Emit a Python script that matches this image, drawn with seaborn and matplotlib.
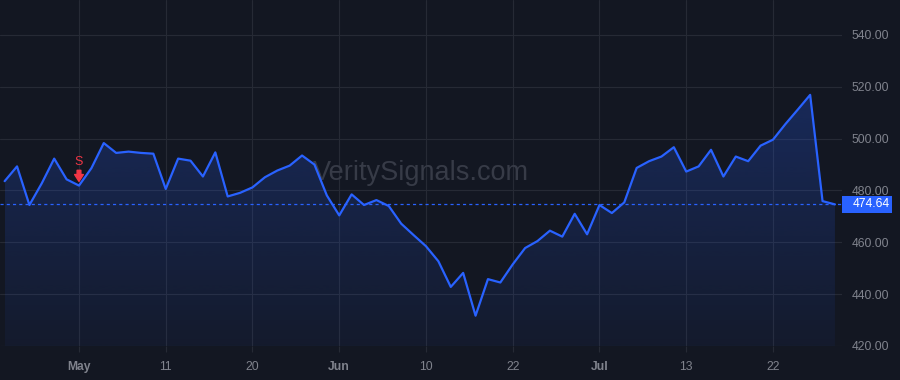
import numpy as np
import pandas as pd
import matplotlib
matplotlib.use("Agg")
import matplotlib.pyplot as plt
import matplotlib.transforms as mtransforms
from matplotlib.colors import LinearSegmentedColormap, to_rgb
from matplotlib.patches import Polygon, Rectangle
import seaborn as sns

# ---------------- data ----------------
prices = [483.6, 489.3, 474.4, 482.8, 492.3, 484.3, 481.9, 488.6, 498.3, 494.5,
          495.0, 494.5, 494.2, 480.6, 492.3, 491.5, 485.4, 494.7, 477.7, 479.1,
          481.2, 485.1, 487.7, 489.6, 493.5, 490.0, 478.1, 470.4, 478.5, 474.4,
          476.3, 474.0, 467.2, 462.8, 458.5, 452.7, 442.8, 448.2, 431.7, 445.8,
          444.5, 451.5, 457.8, 460.5, 464.5, 462.2, 471.0, 463.1, 474.4, 471.3,
          475.4, 488.7, 491.3, 493.1, 496.7, 487.3, 489.3, 495.7, 485.4, 493.1,
          491.3, 497.3, 499.6, 505.6, 511.2, 516.9, 475.9, 474.64]
tick_index = [6, 13, 20, 27, 34, 41, 48, 55, 62]
tick_labels = ["May", "11", "20", "Jun", "10", "22", "Jul", "13", "22"]
month_labels = ["May", "Jun", "Jul"]
y_ticks = [420, 440, 460, 480, 500, 520, 540]
last_price = 474.64
signal_index = 6
signal_label = "S"
watermark = "VeritySignals.com"

# ---------------- style ----------------
BG = "#131722"
GRID = "#262a35"
LINE = "#2962ff"
TEXT = "#80838d"
RED = "#f23645"
WM = "#373b47"

sns.set_theme(style="dark", rc={"axes.facecolor": BG, "figure.facecolor": BG,
                                "savefig.facecolor": BG})
plt.rcParams["font.family"] = ["Liberation Sans", "DejaVu Sans"]

fig = plt.figure(figsize=(9, 3.8), dpi=100, facecolor=BG)
ax = fig.add_axes([0, 34 / 380, 842 / 900, 346 / 380])
ax.set_facecolor(BG)

df = pd.DataFrame({"idx": np.arange(len(prices)), "price": prices})

sns.lineplot(data=df, x="idx", y="price", ax=ax, color=LINE, lw=1.6, zorder=4)

# gradient area fill
ymin, ymax = 420, 553.5
x = df["idx"].values
y = df["price"].values
verts = [(x[0], ymin)] + list(zip(x, y)) + [(x[-1], ymin)]
poly = Polygon(verts, closed=True, facecolor="none", edgecolor="none")
ax.add_patch(poly)
r, g, b = to_rgb(LINE)
cmap = LinearSegmentedColormap.from_list("grad", [(r, g, b, 0.05), (r, g, b, 0.25)])
grad = np.linspace(0, 1, 256).reshape(-1, 1)
im = ax.imshow(grad, cmap=cmap, aspect="auto", origin="lower",
               extent=[x[0], x[-1], ymin, y.max()], zorder=1, interpolation="bicubic")
im.set_clip_path(poly)

# last price line
ax.axhline(last_price, color=LINE, lw=0.9, ls=(0, (2.5, 2.5)), zorder=5)

# watermark
ax.text(0.5, 0.5, watermark, transform=ax.transAxes, ha="center", va="center",
        fontsize=19.5, color=WM, zorder=2)

# signal marker
ax.annotate(signal_label, xy=(signal_index, prices[signal_index]), xycoords="data",
            xytext=(0, 17), textcoords="offset points", ha="center", va="center",
            color=RED, fontsize=9, zorder=6)
ax.annotate("", xy=(signal_index, prices[signal_index]), xycoords="data",
            xytext=(0, 11), textcoords="offset points",
            arrowprops=dict(arrowstyle="simple,head_length=0.55,head_width=0.7,tail_width=0.3",
                            color=RED, shrinkA=0, shrinkB=3, mutation_scale=9),
            zorder=6)

# axes
ax.set_xlim(-0.374, 67.57)
ax.set_ylim(ymin, ymax)
ax.set_xlabel("")
ax.set_ylabel("")
for s in ax.spines.values():
    s.set_visible(False)

ax.grid(True, color=GRID, lw=0.8)
ax.set_axisbelow(True)

ax.yaxis.tick_right()
ax.set_yticks(y_ticks)
ax.set_yticklabels([f"{v:.2f}" for v in y_ticks])
ax.tick_params(axis="y", length=0, pad=7, labelsize=8.7, labelcolor=TEXT)

ax.set_xticks(tick_index)
ax.set_xticklabels(tick_labels)
ax.tick_params(axis="x", length=4.3, width=0.8, color=GRID, pad=6.5,
               labelsize=8.7, labelcolor=TEXT, bottom=True)
for lbl in ax.get_xticklabels():
    if lbl.get_text() in month_labels:
        lbl.set_fontweight("bold")

# price label box on right axis
trans = mtransforms.blended_transform_factory(ax.transAxes, ax.transData)
ax.add_patch(Rectangle((1.0, last_price - 3.3), 50 / 842, 6.6, transform=trans,
                       facecolor=LINE, edgecolor="none", clip_on=False, zorder=7))
ax.text(1.0 + 11 / 842, last_price, f"{last_price:.2f}", transform=trans,
        ha="left", va="center", color="white", fontsize=8.7, zorder=8, clip_on=False)

fig.savefig("out.png", dpi=100, facecolor=BG)
